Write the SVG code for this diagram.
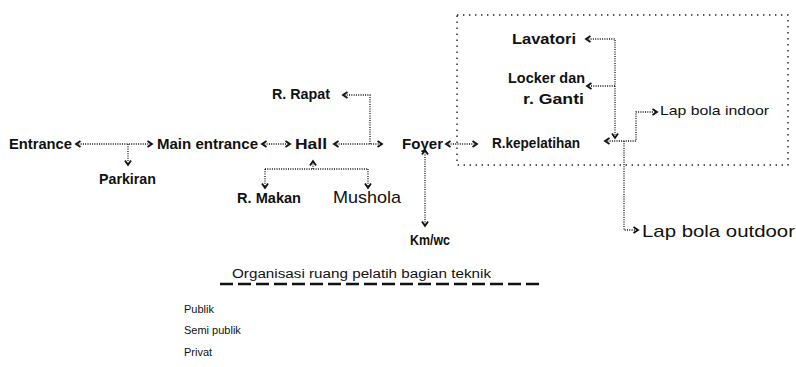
<svg xmlns="http://www.w3.org/2000/svg" width="796" height="367" viewBox="0 0 796 367">
  <style>
    text { font-family: "Liberation Sans", Arial, sans-serif; fill: #111; }
    .b { font-weight: bold; font-size: 14px; }
    .r { font-weight: normal; }
    .dot { fill: none; stroke: #111; stroke-width: 1.3; stroke-dasharray: 1 1.3; }
    .box { fill: none; stroke: #222; stroke-width: 1.4; stroke-dasharray: 1.4 4.6; }
    .sep { fill: none; stroke: #111; stroke-width: 2.6; stroke-dasharray: 13 5; }
  </style>
  <defs>
    <marker id="arr" markerUnits="userSpaceOnUse" markerWidth="8" markerHeight="8" refX="6" refY="4" orient="auto-start-reverse">
      <path d="M1.5,1 L6,4 L1.5,7" fill="none" stroke="#111" stroke-width="1.8"/>
    </marker>
  </defs>

  <!-- area boundary for the training block -->
  <rect class="box" x="457" y="15" width="331" height="150"/>

  <g id="connectors">
    <line class="dot" x1="76" y1="144" x2="152" y2="144" marker-start="url(#arr)" marker-end="url(#arr)"/>
    <line class="dot" x1="128" y1="144" x2="128" y2="165" marker-end="url(#arr)"/>
    <line class="dot" x1="262" y1="144" x2="290" y2="144" marker-start="url(#arr)" marker-end="url(#arr)"/>
    <line class="dot" x1="334" y1="144" x2="382" y2="144" marker-start="url(#arr)" marker-end="url(#arr)"/>
    <path class="dot" d="M370,144 V95 H343" marker-end="url(#arr)"/>
    <path class="dot" d="M313,169 V161" marker-end="url(#arr)"/>
    <path class="dot" d="M265,169 H368"/>
    <path class="dot" d="M265,169 V188" marker-end="url(#arr)"/>
    <path class="dot" d="M368,169 V188" marker-end="url(#arr)"/>
    <line class="dot" x1="446" y1="144" x2="477" y2="144" marker-start="url(#arr)" marker-end="url(#arr)"/>
    <line class="dot" x1="425" y1="150" x2="425" y2="226" marker-start="url(#arr)" marker-end="url(#arr)"/>
    <path class="dot" d="M586,39 H615 V138" marker-start="url(#arr)" marker-end="url(#arr)"/>
    <path class="dot" d="M615,86 H587" marker-end="url(#arr)"/>
    <path class="dot" d="M605,141 H636 V112 H657" marker-start="url(#arr)" marker-end="url(#arr)"/>
    <path class="dot" d="M624,141 V230 H638" marker-end="url(#arr)"/>
  </g>

  <g id="entrance"><text class="b" x="9" y="149" textLength="63" lengthAdjust="spacingAndGlyphs">Entrance</text></g>
  <g id="parkiran"><text class="b" x="99" y="184" textLength="57" lengthAdjust="spacingAndGlyphs">Parkiran</text></g>
  <g id="main-entrance"><text class="b" x="157" y="149" textLength="101" lengthAdjust="spacingAndGlyphs">Main entrance</text></g>
  <g id="hall"><text class="b" x="295" y="149" textLength="32" lengthAdjust="spacingAndGlyphs">Hall</text></g>
  <g id="r-rapat"><text class="b" x="272" y="99" textLength="58" lengthAdjust="spacingAndGlyphs">R. Rapat</text></g>
  <g id="r-makan"><text class="b" x="237" y="203" textLength="64" lengthAdjust="spacingAndGlyphs">R. Makan</text></g>
  <g id="mushola"><text class="r" x="333" y="203" font-size="17" textLength="68" lengthAdjust="spacingAndGlyphs">Mushola</text></g>
  <g id="foyer"><text class="b" x="402" y="149" textLength="41" lengthAdjust="spacingAndGlyphs">Foyer</text></g>
  <g id="km-wc"><text class="b" x="410" y="245" textLength="40" lengthAdjust="spacingAndGlyphs">Km/wc</text></g>
  <g id="r-kepelatihan"><text class="b" x="492" y="148" textLength="88" lengthAdjust="spacingAndGlyphs">R.kepelatihan</text></g>
  <g id="lavatori"><text class="b" x="512" y="44" font-size="15" textLength="64" lengthAdjust="spacingAndGlyphs">Lavatori</text></g>
  <g id="locker"><text class="b" x="508" y="83" font-size="16" textLength="77" lengthAdjust="spacingAndGlyphs">Locker dan</text>
    <text class="b" x="523" y="104" font-size="16" textLength="61" lengthAdjust="spacingAndGlyphs">r. Ganti</text></g>
  <g id="lap-indoor"><text class="r" x="660" y="115" font-size="13" textLength="109" lengthAdjust="spacingAndGlyphs">Lap bola indoor</text></g>
  <g id="lap-outdoor"><text class="r" x="642" y="237" font-size="17" textLength="153" lengthAdjust="spacingAndGlyphs">Lap bola outdoor</text></g>

  <g id="legend">
    <text x="232" y="278" font-size="12.5" textLength="259" lengthAdjust="spacingAndGlyphs">Organisasi ruang  pelatih bagian teknik</text>
    <line class="sep" x1="220" y1="284" x2="542" y2="284"/>
    <text x="184" y="313" font-size="11">Publik</text>
    <text x="184" y="334" font-size="11">Semi publik</text>
    <text x="184" y="356" font-size="11">Privat</text>
  </g>
</svg>
